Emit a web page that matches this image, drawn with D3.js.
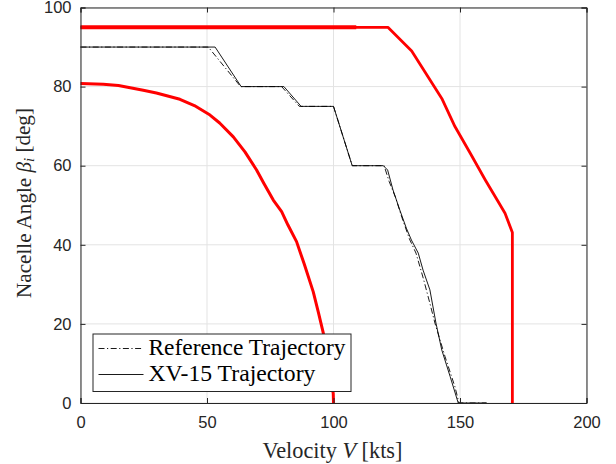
<!DOCTYPE html>
<html>
<head>
<meta charset="utf-8">
<script src="https://cdn.jsdelivr.net/npm/d3@7"></script>
<style>
  body { margin: 0; background: #fff; }
  svg { display: block; }
</style>
</head>
<body>
<svg id="chart"></svg>
<script>
// ticks
const xTicks = [0, 50, 100, 150, 200];
const yTicks = [0, 20, 40, 60, 80, 100];

// reference trajectory (dash-dot)
const refV    = [0, 50.5, 63.3, 79.5, 86.5, 100, 107.4, 120, 122, 124.5, 127, 130, 132.6, 135.5, 138.1, 140.1, 144.1, 148, 149.6, 160.5];
const refBeta = [90, 90, 80, 80, 75, 75, 60, 60, 56, 52, 47, 41.5, 37.9, 31.5, 25.2, 20.2, 11.7, 4.1, 0, 0];

// XV-15 trajectory (solid)
const xvV    = [0, 53.2, 63.5, 80.4, 87.2, 100, 107.4, 119.7, 121.4, 123.5, 126.2, 128.8, 130.8, 133.5, 135.4, 138.1, 140.5, 142.8, 146.1, 149.3, 160.5];
const xvBeta = [90, 90, 80, 80, 75, 75, 60, 60, 58.9, 53.9, 48.8, 44.2, 41.2, 37.9, 33.6, 28.6, 20.2, 13.4, 6.7, 0, 0];

// lower conversion corridor boundary (red)
const lowV    = [0, 9, 15, 24.8, 30, 39.3, 45, 51.2, 55, 60.4, 65, 69.6, 72.5, 76.2, 79.5, 82, 85.4, 88.5, 92, 94, 96, 98, 99.9, 100];
const lowBeta = [80.8, 80.6, 80.3, 79.1, 78.4, 76.8, 75.2, 72.8, 70.8, 67.3, 63.5, 58.9, 55.5, 51.3, 48.4, 45, 40.8, 35, 28.1, 23, 17.6, 10, 2.4, 0];

// upper conversion corridor boundary (red)
const highV    = [0, 121.5, 130.9, 142.8, 148, 154, 160, 165, 167.8, 170.7, 170.7];
const highBeta = [95, 95, 89, 77, 69.9, 63.2, 56.4, 51, 48, 43.1, 0];

// heavy cap segment at 95 deg
const capV    = [0, 109];
const capBeta = [95, 95];

const width = 616, height = 464;
const margin = {top: 7.5, right: 29.5, bottom: 61, left: 80.5};
const iw = width - margin.left - margin.right;
const ih = height - margin.top - margin.bottom;
const axisColor = "#262626";
const serif = "'Liberation Serif', 'Times New Roman', serif";

const svg = d3.select("#chart")
    .attr("width", width)
    .attr("height", height);

const x = d3.scaleLinear().domain([0, 200]).range([0, iw]);
const y = d3.scaleLinear().domain([0, 100]).range([ih, 0]);

// scale a text's font size so that it spans the wanted width
function fitWidth(sel, target) {
    const fs = parseFloat(sel.style("font-size"));
    const w = sel.node().getComputedTextLength();
    sel.style("font-size", (fs * target / w) + "px");
}

const g = svg.append("g")
    .attr("transform", `translate(${margin.left},${margin.top})`);

// grid
g.selectAll(".gx").data(xTicks).enter().append("line")
    .attr("x1", d => x(d)).attr("x2", d => x(d))
    .attr("y1", 0).attr("y2", ih)
    .attr("stroke", "#e3e3e3").attr("stroke-width", 1);
g.selectAll(".gy").data(yTicks).enter().append("line")
    .attr("y1", d => y(d)).attr("y2", d => y(d))
    .attr("x1", 0).attr("x2", iw)
    .attr("stroke", "#e3e3e3").attr("stroke-width", 1);

const line = d3.line().x(d => x(d[0])).y(d => y(d[1]));
const zip = (a, b) => a.map((v, i) => [v, b[i]]);

// red boundaries
g.append("path").datum(zip(lowV, lowBeta))
    .attr("d", line).attr("fill", "none")
    .attr("stroke", "#ff0000").attr("stroke-width", 3).attr("stroke-linejoin", "round");
g.append("path").datum(zip(highV, highBeta))
    .attr("d", line).attr("fill", "none")
    .attr("stroke", "#ff0000").attr("stroke-width", 2.8).attr("stroke-linejoin", "round");
g.append("path").datum(zip(capV, capBeta))
    .attr("d", line).attr("fill", "none")
    .attr("stroke", "#ff0000").attr("stroke-width", 4);

// trajectories
g.append("path").datum(zip(refV, refBeta))
    .attr("d", line).attr("fill", "none")
    .attr("stroke", "#000").attr("stroke-width", 0.9)
    .attr("stroke-dasharray", "6,2.5,1.2,2.5");
g.append("path").datum(zip(xvV, xvBeta))
    .attr("d", line).attr("fill", "none")
    .attr("stroke", "#000").attr("stroke-width", 0.9);

// axes (inward ticks, box)
const tickLen = 5;
const xAxis = g.append("g").attr("transform", `translate(0,${ih})`)
    .call(d3.axisBottom(x).tickValues(xTicks).tickSize(-tickLen).tickPadding(13));
const xAxisTop = g.append("g")
    .call(d3.axisTop(x).tickValues(xTicks).tickSize(-tickLen).tickFormat(""));
const yAxis = g.append("g")
    .call(d3.axisLeft(y).tickValues(yTicks).tickSize(-tickLen).tickPadding(9));
const yAxisRight = g.append("g").attr("transform", `translate(${iw},0)`)
    .call(d3.axisRight(y).tickValues(yTicks).tickSize(-tickLen).tickFormat(""));

[xAxis, xAxisTop, yAxis, yAxisRight].forEach(a => {
    a.selectAll("path, line").attr("stroke", axisColor).attr("stroke-width", 1);
    a.selectAll("text")
        .attr("fill", axisColor)
        .style("font-family", "'Liberation Sans', Arial, sans-serif")
        .style("font-size", "16.5px");
});
xAxis.selectAll("text").attr("dy", "0.71em");

// axis labels
const xLabel = svg.append("text")
    .attr("x", 332.5)
    .attr("y", 457.5)
    .attr("text-anchor", "middle")
    .attr("fill", axisColor)
    .style("font-family", serif)
    .style("font-size", "20px")
    .html('Velocity <tspan font-style="italic">V</tspan> [kts]');
fitWidth(xLabel, 140);

const yLabel = svg.append("text")
    .attr("transform", "translate(31,203) rotate(-90)")
    .attr("text-anchor", "middle")
    .attr("fill", axisColor)
    .style("font-family", serif)
    .style("font-size", "20px")
    .html('Nacelle Angle <tspan font-style="italic">β</tspan><tspan font-style="italic" font-size="0.7em" dy="0.2em">i</tspan><tspan dy="-0.2em"> [deg]</tspan>');
fitWidth(yLabel, 190);

// legend
const legend = svg.append("g").attr("transform", "translate(93,334)");
legend.append("rect")
    .attr("width", 258).attr("height", 57.5)
    .attr("fill", "#fff").attr("stroke", axisColor).attr("stroke-width", 1);

const legendItems = [
    {label: "Reference Trajectory", dash: "6,2.5,1.2,2.5", w: 197},
    {label: "XV-15 Trajectory", dash: null, w: 167}
];
const rows = legend.selectAll(".row").data(legendItems).enter().append("g")
    .attr("transform", (d, i) => `translate(0,${14.5 + i * 26})`);
rows.append("line")
    .attr("x1", 5.5).attr("x2", 50.5)
    .attr("stroke", "#000").attr("stroke-width", 0.9)
    .attr("stroke-dasharray", d => d.dash);
rows.append("text")
    .attr("x", 55.5).attr("y", 6.5)
    .attr("fill", "#000")
    .style("font-family", serif)
    .style("font-size", "20px")
    .text(d => d.label)
    .each(function (d) { fitWidth(d3.select(this), d.w); });
</script>
</body>
</html>
